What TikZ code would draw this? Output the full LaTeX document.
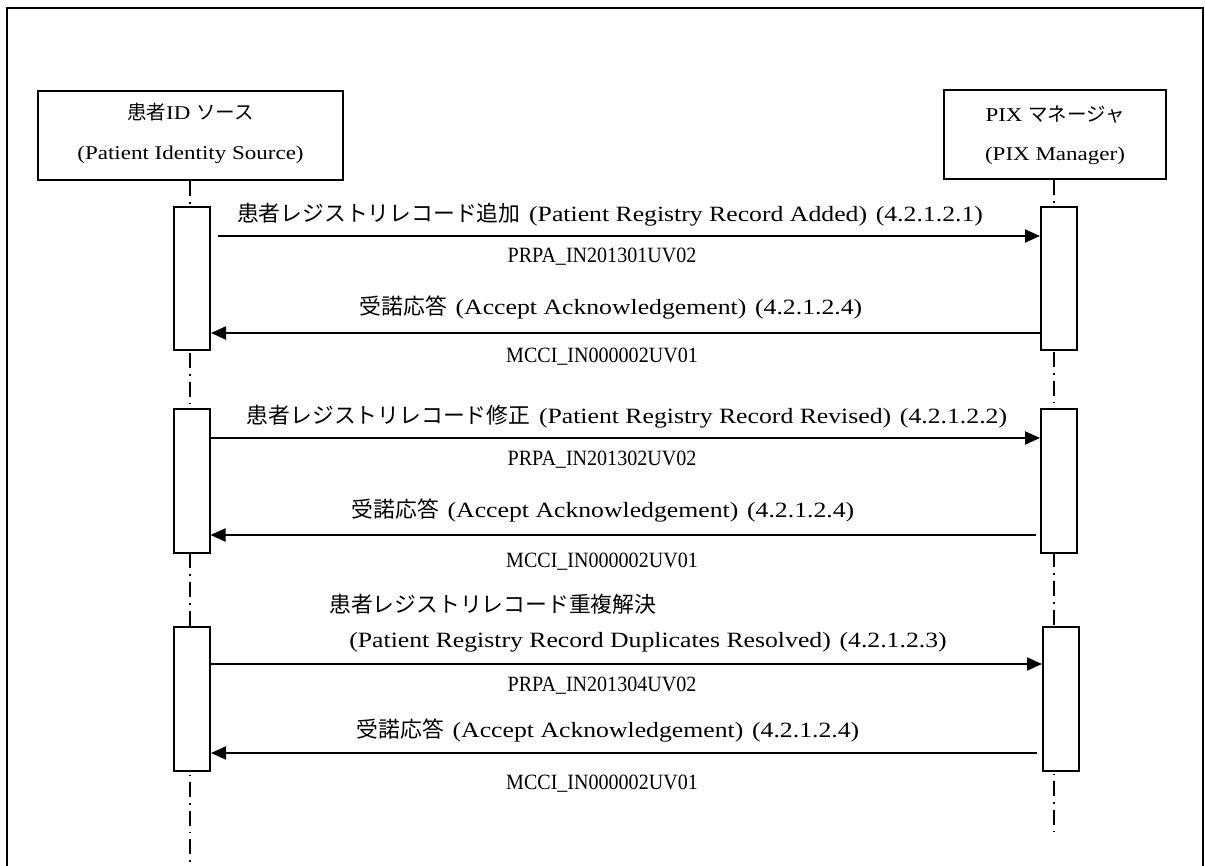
\documentclass[tikz,border=0pt]{standalone}
\usepackage{fontspec}
\setmainfont[FakeStretch=1.18]{Liberation Serif}
\newfontfamily\codefont[FakeStretch=0.92]{Liberation Serif}
\newfontfamily\jp{Noto Sans CJK JP}
\usetikzlibrary{arrows.meta}
\newcommand\mysp{\hspace{0.4em}}
\begin{document}
\begin{tikzpicture}[x=1pt,y=-1pt,
  actor/.style={draw,line width=2pt,inner sep=0pt,minimum height=89pt},
  actbox/.style={draw,line width=2pt,fill=white,inner sep=0pt,minimum width=36pt,minimum height=144pt},
  life/.style={line width=1.6pt,dash pattern=on 15pt off 6pt on 1.6pt off 6pt},
  msg/.style={line width=2pt,-{Triangle[length=15pt,width=13pt]}},
  txt/.style={inner sep=0pt,anchor=base,font=\fontsize{21.8pt}{26pt}\selectfont},
  code/.style={txt,font=\fontsize{21.8pt}{26pt}\selectfont\codefont},
  hdr/.style={inner sep=0pt,anchor=base,font=\fontsize{19.5pt}{23pt}\selectfont}]
\useasboundingbox (0,0) rectangle (1205,866);
% frame
\draw[line width=2.5pt] (7,880) -- (7,8) -- (1203,8) -- (1203,880);
% actors
\node[actor,minimum width=305pt] (src) at (190.5,136) {};
\node[actor,minimum width=222pt] (mgr) at (1055,135) {};
\node[hdr] (srcT1) at (190.5,120) {{\jp 患者}ID {\jp ソース}};
\node[hdr] (srcT2) at (190.5,160) {(Patient Identity Source)};
\node[hdr] (mgrT1) at (1055,122) {PIX {\jp マネージャ}};
\node[hdr] (mgrT2) at (1055,161) {(PIX Manager)};
% lifelines
\coordinate (srcEnd) at (190,880);
\coordinate (mgrEnd) at (1054,836);
\draw[life] ([xshift=-0.5pt]src.south) -- (srcEnd);
\draw[life] ([xshift=-1pt]mgr.south) -- (mgrEnd);
% activation boxes
\node[actbox,minimum height=143pt] (aL1) at (192,278.5) {};
\node[actbox,minimum height=143pt] (aR1) at (1059,278.5) {};
\node[actbox] (aL2) at (191.5,481) {};
\node[actbox] (aR2) at (1059,481) {};
\node[actbox] (aL3) at (192,699) {};
\node[actbox] (aR3) at (1061,699) {};
% message rows
\coordinate (y1) at (0,236);
\coordinate (y2) at (0,333);
\coordinate (y3) at (0,438);
\coordinate (y4) at (0,535);
\coordinate (y5) at (0,664);
\coordinate (y6) at (0,753);
\draw[msg] ([xshift=7pt]aL1.east |- y1) -- (aR1.west |- y1);
\draw[msg] (aR1.west |- y2) -- (aL1.east |- y2);
\draw[msg] (aL2.east |- y3) -- (aR2.west |- y3);
\draw[msg] ([xshift=-4pt]aR2.west |- y4) -- (aL2.east |- y4);
\draw[msg] (aL3.east |- y5) -- (aR3.west |- y5);
\draw[msg] ([xshift=-5pt]aR3.west |- y6) -- (aL3.east |- y6);
% labels
\node[txt] (lab1) at (610,222) {{\jp 患者レジストリレコード追加}\mysp(Patient Registry Record Added)\mysp(4.2.1.2.1)};
\node[code] (code1) at (602,263) {PRPA\_IN201301UV02};
\node[txt] (lab2) at (611,315) {{\jp 受諾応答}\mysp(Accept Acknowledgement)\mysp(4.2.1.2.4)};
\node[code] (code2) at (602,363) {MCCI\_IN000002UV01};
\node[txt] (lab3) at (627,424) {{\jp 患者レジストリレコード修正}\mysp(Patient Registry Record Revised)\mysp(4.2.1.2.2)};
\node[code] (code3) at (602,465) {PRPA\_IN201302UV02};
\node[txt] (lab4) at (603,517) {{\jp 受諾応答}\mysp(Accept Acknowledgement)\mysp(4.2.1.2.4)};
\node[code] (code4) at (602,567) {MCCI\_IN000002UV01};
\node[txt,anchor=base west] (lab5a) at (329,612) {{\jp 患者レジストリレコード重複解決}};
\node[txt] (lab5b) at (648,647) {(Patient Registry Record Duplicates Resolved)\mysp(4.2.1.2.3)};
\node[code] (code5) at (602,691) {PRPA\_IN201304UV02};
\node[txt] (lab6) at (608,737) {{\jp 受諾応答}\mysp(Accept Acknowledgement)\mysp(4.2.1.2.4)};
\node[code] (code6) at (602,789) {MCCI\_IN000002UV01};
\end{tikzpicture}
\end{document}
